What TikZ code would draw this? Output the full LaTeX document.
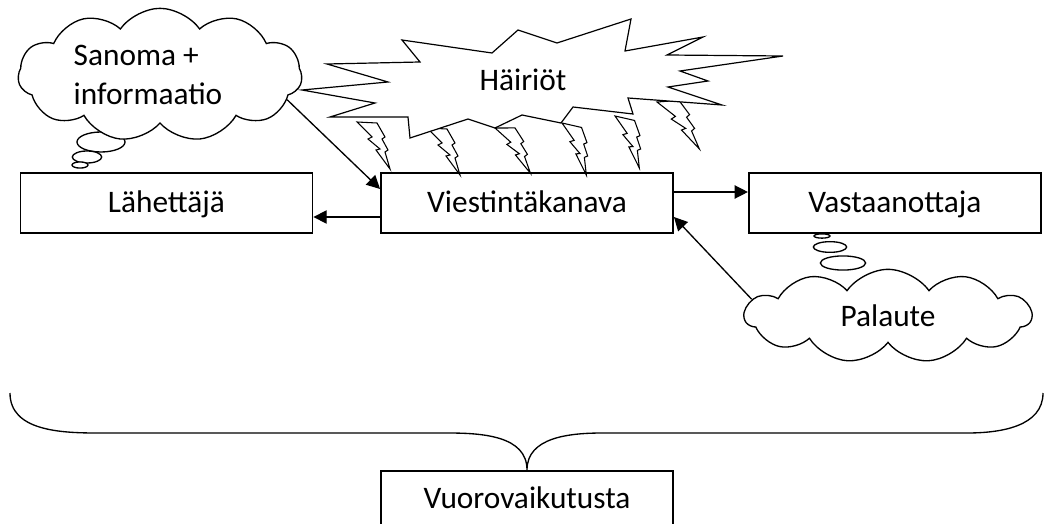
\documentclass[tikz,border=0pt]{standalone}
\usepackage{fontspec}
\setmainfont{Carlito}
\usetikzlibrary{arrows.meta,positioning,shapes.symbols}

\tikzset{
  bolt/.pic={\draw[line width=0.8pt,fill=white] (0,0) -- (15,15) -- (11,17) -- (23,27) -- (19,28) -- (33,47) -- (28,30) -- (31,28) -- (25,17) -- (28,15) -- (20,1) -- cycle;}
}

\begin{document}
\begin{tikzpicture}[
    x=0.75pt, y=-0.75pt,
    font=\fontsize{23.5}{29}\selectfont,
    >={Triangle[length=10pt,width=10pt]},
    node distance=50pt,
    box/.style={rectangle,draw,line width=1.4pt,minimum width=219pt,minimum height=45pt,inner sep=0pt,text height=15pt,text depth=0pt},
    thought/.style={cloud,draw,fill=white,line width=1pt,cloud puffs=11,cloud puff arc=110,inner xsep=-60pt,inner ysep=-40pt},
    bubble/.style={draw,fill=white,line width=1pt},
    arrow/.style={->,line width=1pt}
  ]
  \useasboundingbox (0,0) rectangle (1047,524);

  % thought bubbles
  \draw[bubble] (101,142) ellipse[x radius=18pt,y radius=7.5pt];
  \draw[bubble] (87,157) ellipse[x radius=11pt,y radius=4.5pt];
  \draw[bubble] (80,165) ellipse[x radius=6pt,y radius=2.3pt];
  \draw[bubble] (843,263) ellipse[x radius=17pt,y radius=5.3pt];
  \draw[bubble] (830,247) ellipse[x radius=12.5pt,y radius=4pt];
  \draw[bubble] (822,236) ellipse[x radius=6pt,y radius=1.6pt];

  \node[thought,minimum width=213pt,minimum height=100pt,align=left] (msg) at (160,75) {Sanoma +\\informaatio\hspace*{18pt}};
  \node[thought,minimum width=215pt,minimum height=70pt] (fb) at (888,316) {Palaute};

  % lightning
  \pic at (357,122) {bolt};
  \pic at (427,128) {bolt};
  \pic[rotate=3] at (495,128) {bolt};
  \pic[rotate=-10] at (562,123) {bolt};
  \pic[rotate=-10] at (615,116) {bolt};
  \pic[rotate=7,scale=1.1] at (657,102) {bolt};

  \draw[line width=0.9pt,fill=white] (302,90) -- (388,82) -- (327,64) -- (420,62) -- (402,40) -- (492,53) -- (518,30) -- (557,43) -- (631,19) -- (625,51) -- (703,37) -- (667,55) -- (783,56) -- (680,71) -- (708,81) -- (668,87) -- (722,105) -- (628,98) -- (633,114) -- (573,107) -- (561,123) -- (522,115) -- (495,128) -- (468,119) -- (410,138) -- (408,117) -- (330,117) -- (375,103) -- cycle;
  \node (noise) at (523,80) {Häiriöt};

  \node[box] (chan) at (527,203) {Viestintäkanava};
  \node[box,left=50pt of chan] (send) {Lähettäjä};
  \node[box,right=55.5pt of chan] (recv) {Vastaanottaja};
  \node[box,below=177pt of chan,minimum height=41pt] (vuoro) {Vuorovaikutusta};

  \draw[arrow] (msg.-11) -- ([yshift=10.5pt]chan.west);
  \draw[arrow] ([yshift=-10.5pt]chan.west) -- ([yshift=-10.5pt]send.east);
  \draw[arrow] ([yshift=8.25pt]chan.east) -- ([yshift=8.25pt]recv.west);
  \draw[arrow] (fb.173) -- ([yshift=-10.5pt]chan.east);

  % brace
  \draw[line width=1pt] (10,393) to[out=-90,in=180] (97,433) -- (447,433) to[out=0,in=90] (vuoro.north)
    to[out=90,in=180] (603,433) -- (967,433) to[out=0,in=-90] (1043,393);
\end{tikzpicture}
\end{document}
